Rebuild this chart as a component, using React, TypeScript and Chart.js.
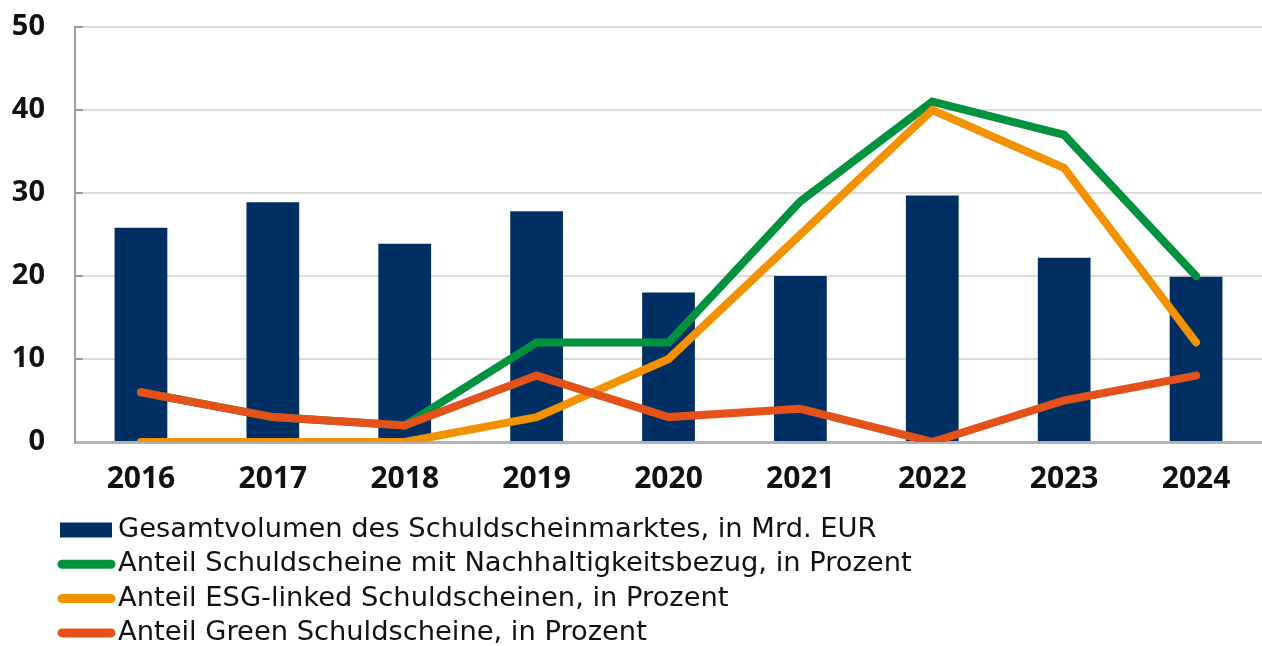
import React, { useEffect, useRef } from "react";
import { Chart, registerables } from "chart.js";

Chart.register(...registerables);

const years = ["2016", "2017", "2018", "2019", "2020", "2021", "2022", "2023", "2024"];
const totalVolume = [25.8, 28.9, 23.9, 27.8, 18.0, 20.0, 29.7, 22.2, 19.9];
const sustainableShare = [6, 3, 2, 12, 12, 29, 41, 37, 20];
const esgLinkedShare = [0, 0, 0, 3, 10, 25, 40, 33, 12];
const greenShare = [6, 3, 2, 8, 3, 4, 0, 5, 8];

const seriesLabels = [
  "Gesamtvolumen des Schuldscheinmarktes, in Mrd. EUR",
  "Anteil Schuldscheine mit Nachhaltigkeitsbezug, in Prozent",
  "Anteil ESG-linked Schuldscheinen, in Prozent",
  "Anteil Green Schuldscheine, in Prozent",
];
const seriesColors = ["#003063", "#00923f", "#f39200", "#e4521a"];

const FONT = "'Open Sans', 'Liberation Sans', sans-serif";
const LEGEND_FONT = "'DejaVu Sans', sans-serif";

const legendPlugin = {
  id: "customLegend",
  afterDraw(chart: any) {
    const ctx = chart.ctx;
    ctx.save();
    ctx.font = `27.3px ${LEGEND_FONT}`;
    ctx.textBaseline = "alphabetic";
    ctx.textAlign = "left";
    const baseY = 537;
    const rowH = 34.3;
    chart.data.datasets.forEach((ds: any, i: number) => {
      const by = baseY + i * rowH;
      const cy = by - 7;
      if (ds.type === "line") {
        ctx.strokeStyle = ds.borderColor;
        ctx.lineWidth = 9;
        ctx.lineCap = "round";
        ctx.beginPath();
        ctx.moveTo(62, cy);
        ctx.lineTo(111, cy);
        ctx.stroke();
      } else {
        ctx.fillStyle = ds.backgroundColor;
        ctx.fillRect(60, cy - 7.5, 52, 15);
      }
      ctx.fillStyle = "#111";
      ctx.fillText(ds.label, 118, by);
    });
    // small inner tick marks on the y axis
    const y = chart.scales.y;
    ctx.strokeStyle = "#999";
    ctx.lineWidth = 2;
    ctx.lineCap = "butt";
    y.ticks.forEach((t: any) => {
      const py = y.getPixelForValue(t.value);
      if (t.value === 0) return;
      ctx.beginPath();
      ctx.moveTo(chart.chartArea.left, py);
      ctx.lineTo(chart.chartArea.left + 8, py);
      ctx.stroke();
    });
    ctx.restore();
  },
};

export default function App() {
  const canvasRef = useRef<HTMLCanvasElement | null>(null);

  useEffect(() => {
    document.body.style.margin = "0";
    const canvas = canvasRef.current;
    if (!canvas) return;
    const lineDs = (label: string, data: number[], color: string, order: number) => ({
      type: "line" as const,
      label,
      data,
      borderColor: color,
      backgroundColor: color,
      borderWidth: 8,
      borderCapStyle: "round" as const,
      borderJoinStyle: "miter" as const,
      pointRadius: 0,
      pointHoverRadius: 0,
      tension: 0,
      fill: false,
      order,
    });
    const chart = new Chart(canvas, {
      type: "bar",
      data: {
        labels: years,
        datasets: [
          {
            type: "bar",
            label: seriesLabels[0],
            data: totalVolume,
            backgroundColor: seriesColors[0],
            borderWidth: 0,
            categoryPercentage: 1,
            barPercentage: 0.4,
            order: 4,
          } as any,
          lineDs(seriesLabels[1], sustainableShare, seriesColors[1], 3),
          lineDs(seriesLabels[2], esgLinkedShare, seriesColors[2], 2),
          lineDs(seriesLabels[3], greenShare, seriesColors[3], 1),
        ],
      },
      options: {
        responsive: false,
        animation: false,
        layout: { padding: { top: 27, bottom: 144, left: 0, right: 0 } },
        plugins: {
          legend: { display: false },
          tooltip: { enabled: false },
        },
        scales: {
          x: {
            grid: { display: false, drawTicks: false },
            border: { display: true, color: "#b3b3b3", width: 3 },
            ticks: {
              color: "#111",
              font: { family: FONT, size: 30, weight: "bold" },
              padding: 19,
              maxRotation: 0,
            },
            afterFit(scale: any) {
              scale.height = 60;
            },
          },
          y: {
            min: 0,
            max: 50,
            ticks: {
              stepSize: 10,
              color: "#111",
              font: { family: FONT, size: 29, weight: "bold" },
              padding: 0,
            },
            grid: {
              color: "#dcdcdc",
              lineWidth: 2,
              drawTicks: true,
              tickLength: 30,
              tickColor: "rgba(0,0,0,0)",
            },
            border: { display: true, color: "#a0a0a0", width: 2 },
            afterFit(scale: any) {
              scale.width = 75;
            },
          },
        },
      },
      plugins: [legendPlugin],
    });
    return () => chart.destroy();
  }, []);

  return (
    <div style={{ position: "absolute", left: 0, top: 0, width: 1262, height: 646 }}>
      <canvas ref={canvasRef} width={1262} height={646} style={{ width: 1262, height: 646 }} />
    </div>
  );
}
